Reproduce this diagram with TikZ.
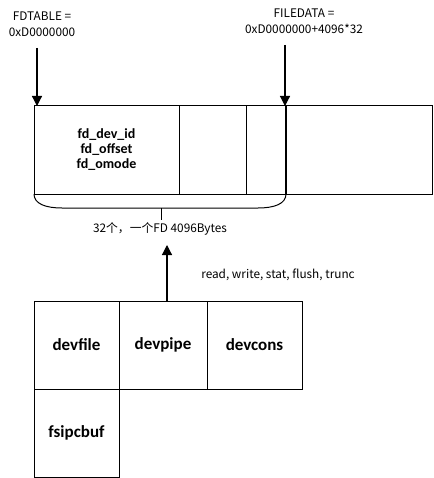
\documentclass[tikz,border=0pt]{standalone}
\usepackage{fontspec}
\setmainfont{Carlito}
\newfontfamily\cjk{Noto Sans CJK SC}
\usetikzlibrary{positioning,arrows.meta}

\begin{document}
\begin{tikzpicture}[x=1pt,y=-1pt,
  cell/.style = {draw=black, line width=1pt, minimum height=88pt, inner sep=0pt, outer sep=0pt},
  devcell/.style = {cell, font=\fontsize{17}{19}\selectfont\bfseries},
  note/.style = {font=\cjk\fontsize{11.8}{16}\selectfont, align=center, inner sep=0pt},
  pointer/.style = {-{Triangle[width=10pt,length=10pt]}, line width=1.2pt}]
     \fill[white] (0,0) rectangle (433,478);

     % fd table
     \node[cell, minimum width=145pt, anchor=north west, align=center,
           font=\fontsize{14}{15}\selectfont\bfseries] (fd1) at (34,106) {fd\_dev\_id\\fd\_offset\\fd\_omode};
     \node[cell, minimum width=67pt] (fd2) [right=0pt of fd1]{};
     \node[cell, minimum width=40pt] (fd3) [right=0pt of fd2]{};
     \node[cell, minimum width=146pt] (data) [right=0pt of fd3]{};
     \draw[line width=2pt] (fd3.north east)--(fd3.south east);

     \node[note] (fdtable) at (42,24) {FDTABLE =\\0xD0000000};
     \node[note] (filedata) at (304,21) {FILEDATA =\\0xD0000000+4096*32};
     \coordinate (p1) at (37,48);
     \coordinate (p2) at (285,45);
     \draw[pointer] (p1)--(p1 |- fd1.north);
     \draw[pointer] (p2)--(p2 |- fd3.north);

     % brace
     \coordinate (bmid) at (161,208);
     \draw[line width=1pt] (fd1.south west) .. controls (34,204) and (46,208) .. (62,208)
          -- (258,208) .. controls (274,208) and (286,204) .. (fd3.south east);
     \draw[line width=1pt] (bmid)--++(0,12);
     \node[note] (count) at (160,229) {32个，一个FD 4096Bytes};

     % devices
     \node[devcell, minimum width=85pt, anchor=north west] (devfile) at (34,301) {devfile};
     \node[devcell, minimum width=88pt] (devpipe) [right=0pt of devfile]{devpipe};
     \node[devcell, minimum width=95pt] (devcons) [right=0pt of devpipe]{devcons};
     \node[devcell, minimum width=85pt] (fsipcbuf) [below=0pt of devfile]{fsipcbuf};

     \coordinate (up) at (167,245);
     \draw[pointer] (devpipe.north -| up)--(up);
     \node[note] (ops) at (278,275) {read, write, stat, flush, trunc};
\end{tikzpicture}
\end{document}
